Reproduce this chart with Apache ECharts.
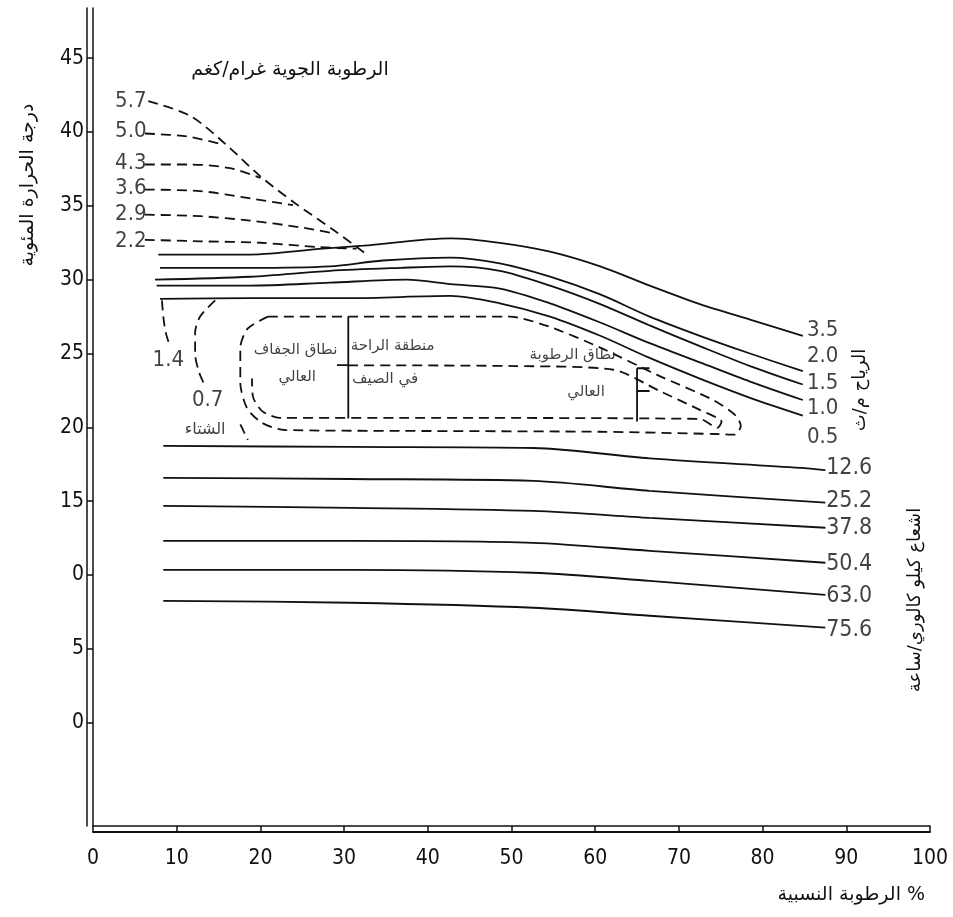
<!DOCTYPE html>
<html>
<head>
<meta charset="utf-8">
<script src="https://cdn.jsdelivr.net/npm/echarts@6/dist/echarts.min.js"></script>
<style>
  html, body { margin: 0; background: #fff; }
  #chart { width: 953px; height: 917px; }
</style>
</head>
<body>
<div id="chart"></div>
<script>
const INK = '#111'
const NUM_FONT = "'DejaVu Sans Condensed', 'Liberation Sans Narrow', 'DejaVu Sans', sans-serif"
const AR_FONT = "'DejaVu Sans', sans-serif"

// axes
const rhTicks = [0, 10, 20, 30, 40, 50, 60, 70, 80, 90, 100]
const tempTicks = [0, 5, 10, 15, 20, 25, 30, 35, 40, 45]
const tempTickText = ['0', '5', '0', '15', '20', '25', '30', '35', '40', '45'] // as printed

// absolute humidity g/kg (dashed)
const humLabels = ['5.7', '5.0', '4.3', '3.6', '2.9', '2.2']
const hum57 = [[6.6, 42.1], [11.6, 41.1], [15.8, 39.2], [20.0, 37.0], [24.1, 35.2], [28.9, 33.3], [32.5, 31.8]]
const hum50 = [[6.2, 39.9], [11.2, 39.7], [15.2, 39.2]]
const hum43 = [[6.2, 37.8], [11.6, 37.8], [16.4, 37.55], [20.0, 36.9]]
const hum36 = [[6.2, 36.1], [12.8, 36.0], [18.8, 35.5], [23.9, 35.05]]
const hum29 = [[6.2, 34.4], [12.8, 34.3], [18.8, 34.0], [24.7, 33.55], [28.7, 33.15]]
const hum22 = [[6.2, 32.7], [12.8, 32.6], [20.0, 32.5], [27.1, 32.2], [31.5, 32.1]]

// wind m/s (solid)
const windLabels = ['3.5', '2.0', '1.5', '1.0', '0.5']
const wind35 = [[7.8, 31.7], [18.8, 31.7], [27.5, 32.1], [32.3, 32.3], [42.7, 32.8], [48.6, 32.5], [54.6, 31.9], [60.6, 30.9], [66.5, 29.6], [72.5, 28.35], [78.5, 27.3], [84.8, 26.2]]
const wind20 = [[8.0, 30.8], [18.8, 30.8], [28.3, 30.9], [34.6, 31.3], [42.7, 31.5], [48.6, 31.1], [54.6, 30.2], [60.6, 29.0], [66.5, 27.5], [72.5, 26.2], [78.5, 25.0], [84.8, 23.8]]
const wind15 = [[7.4, 30.0], [18.8, 30.2], [28.3, 30.6], [36.7, 30.8], [42.7, 30.9], [48.6, 30.6], [54.6, 29.6], [60.6, 28.35], [66.5, 26.9], [72.5, 25.5], [78.5, 24.15], [84.8, 22.9]]
const wind10 = [[7.6, 29.6], [18.8, 29.6], [28.3, 29.8], [37.5, 30.0], [42.7, 29.7], [48.6, 29.4], [54.6, 28.4], [60.6, 27.1], [66.5, 25.7], [72.5, 24.4], [78.5, 23.1], [84.8, 21.85]]
const wind05 = [[8.0, 28.7], [18.8, 28.75], [30.7, 28.75], [42.7, 28.9], [48.6, 28.4], [54.6, 27.5], [60.6, 26.2], [66.5, 24.7], [72.5, 23.3], [78.5, 22.0], [84.8, 20.8]]

// radiation kcal/h (solid)
const radLabels = ['12.6', '25.2', '37.8', '50.4', '63.0', '75.6']
const rad126 = [[8.4, 18.74], [30.7, 18.67], [52.6, 18.6], [66.5, 17.9], [84.5, 17.25], [87.5, 17.1]]
const rad252 = [[8.4, 16.58], [30.7, 16.5], [52.6, 16.37], [66.5, 15.7], [87.5, 14.9]]
const rad378 = [[8.4, 14.68], [30.7, 14.55], [52.6, 14.34], [66.5, 13.87], [87.5, 13.2]]
const rad504 = [[8.4, 12.31], [30.7, 12.31], [52.6, 12.18], [66.5, 11.64], [87.5, 10.83]]
const rad630 = [[8.4, 10.35], [30.7, 10.35], [52.6, 10.15], [66.5, 9.6], [87.5, 8.66]]
const rad756 = [[8.4, 8.25], [30.7, 8.12], [52.6, 7.78], [66.5, 7.24], [87.5, 6.43]]

// comfort zone outlines (dashed)
const zoneOuter = [[20.9, 27.5], [35.0, 27.5], [49.8, 27.5], [54.6, 26.8], [60.6, 25.4], [67.4, 23.55], [74.1, 21.85], [76.7, 20.85], [77.4, 20.1], [76.7, 19.5], [74.3, 19.55], [60.6, 19.7], [36.7, 19.76], [22.9, 19.82], [20.2, 20.3], [18.4, 21.3], [17.6, 23.0], [17.6, 25.4], [18.5, 26.7], [20.9, 27.5]]
const zoneInner = [[30.5, 24.2], [50.4, 24.15], [62.2, 23.9], [67.7, 22.46], [72.5, 21.18], [75.1, 20.37], [74.6, 19.96], [72.5, 20.57], [36.7, 20.64], [22.3, 20.64], [20.2, 21.1], [19.1, 22.1], [19.0, 23.3]]
const winter14 = [[8.24, 28.6], [8.4, 27.5], [8.7, 26.4], [9.2, 25.5]]
const winter07 = [[14.6, 28.6], [12.8, 27.5], [12.2, 26.4], [12.2, 25.0], [12.7, 23.7], [13.4, 22.8], null, [17.6, 20.2], [18.5, 19.15]]
const brackets = [[30.5, 27.5], [30.5, 20.6], null, [29.15, 24.22], [30.5, 24.22], null,
  [65.0, 24.0], [65.0, 20.4], null, [65.0, 24.0], [66.5, 24.0], null, [65.0, 22.46], [66.5, 22.46]]

function curve(data, dashed, smooth) {
  return {
    type: 'line',
    data: data.map(p => p === null ? ['-', '-'] : p),
    showSymbol: false,
    symbol: 'none',
    smooth: smooth === undefined ? 0.3 : smooth,
    connectNulls: false,
    silent: true,
    lineStyle: { color: INK, width: 1.8, type: dashed ? [10, 6] : 'solid' },
    z: 3
  }
}

function note(x, y, text, opts) {
  opts = opts || {}
  return {
    value: [x, y],
    label: {
      formatter: text,
      color: INK,
      textBorderWidth: 0,
      align: opts.align || 'center',
      fontSize: opts.size || 22,
      fontFamily: opts.ar ? AR_FONT : NUM_FONT
    }
  }
}

const humCurves = [hum57, hum50, hum43, hum36, hum29, hum22]
const windCurves = [wind35, wind20, wind15, wind10, wind05]
const radCurves = [rad126, rad252, rad378, rad504, rad630, rad756]

const humY = [42.1, 40.05, 37.9, 36.2, 34.45, 32.6]
const windY = [26.6, 24.8, 23.0, 21.3, 19.3]
const radY = [17.25, 15.0, 13.2, 10.75, 8.6, 6.3]

const notes = []
humLabels.forEach((t, i) => notes.push(note(6.4, humY[i], t, { align: 'right' })))
windLabels.forEach((t, i) => notes.push(note(85.3, windY[i], t, { align: 'left' })))
radLabels.forEach((t, i) => notes.push(note(87.6, radY[i], t, { align: 'left', size: 23 })))
notes.push(note(9.0, 24.55, '1.4'))
notes.push(note(13.7, 21.8, '0.7'))
notes.push(note(13.4, 19.85, 'الشتاء', { ar: true, size: 16 }))
notes.push(note(24.2, 25.2, 'نطاق الجفاف', { ar: true, size: 15 }))
notes.push(note(24.4, 23.4, 'العالي', { ar: true, size: 15 }))
notes.push(note(35.8, 25.5, 'منطقة الراحة', { ar: true, size: 15 }))
notes.push(note(34.9, 23.3, 'في الصيف', { ar: true, size: 15 }))
notes.push(note(57.3, 24.9, 'نطاق الرطوبة', { ar: true, size: 15 }))
notes.push(note(58.9, 22.4, 'العالي', { ar: true, size: 15 }))

const series = []
humCurves.forEach(d => series.push(curve(d, true)))
windCurves.forEach(d => series.push(curve(d, false)))
radCurves.forEach(d => series.push(curve(d, false)))
series.push(curve(zoneOuter, true, 0.25))
series.push(curve(zoneInner, true, 0.25))
series.push(curve(winter14, true))
series.push(curve(winter07, true))
series.push(curve(brackets, false, false))
series.push({
  type: 'scatter',
  data: notes,
  symbolSize: 0,
  silent: true,
  z: 5,
  label: { show: true, position: 'inside', color: INK, verticalAlign: 'middle' }
})

const axisLine = { show: true, onZero: false, lineStyle: { color: INK, width: 1.5 } }

const chart = echarts.init(document.getElementById('chart'))
chart.setOption({
  animation: false,
  backgroundColor: '#fff',
  grid: { left: 93, right: 23, top: 8, bottom: 91, containLabel: false },
  xAxis: [
    {
      type: 'value', min: 0, max: 100, interval: 10,
      axisLine: axisLine,
      axisTick: { show: true, length: 6, lineStyle: { color: INK, width: 1.5 } },
      axisLabel: {
        color: INK, fontSize: 21, fontFamily: NUM_FONT, margin: 22,
        customValues: rhTicks, formatter: v => String(v)
      },
      splitLine: { show: false }
    },
    {
      type: 'value', min: 0, max: 100, position: 'bottom', offset: 6,
      axisLine: { show: true, onZero: false, lineStyle: { color: INK, width: 1.8 } },
      axisTick: { show: false }, axisLabel: { show: false }, splitLine: { show: false }
    }
  ],
  yAxis: [
    {
      type: 'value', min: -7, max: 48.4,
      axisLine: axisLine,
      axisTick: { show: true, length: 6, customValues: tempTicks, lineStyle: { color: INK, width: 1.5 } },
      axisLabel: {
        color: INK, fontSize: 21, fontFamily: NUM_FONT, margin: 9,
        customValues: tempTicks,
        formatter: v => tempTickText[tempTicks.indexOf(v)]
      },
      splitLine: { show: false }
    },
    {
      type: 'value', min: -7, max: 48.4, position: 'left', offset: 6,
      axisLine: axisLine, axisTick: { show: false }, axisLabel: { show: false }, splitLine: { show: false }
    }
  ],
  graphic: [
    {
      type: 'text', x: 290, y: 70,
      style: { text: 'الرطوبة الجوية غرام/كغم', font: '19px ' + AR_FONT, fill: INK, align: 'center', verticalAlign: 'middle' }
    },
    {
      type: 'text', x: 28, y: 185, rotation: Math.PI / 2,
      style: { text: 'درجة الحرارة المئوية', font: '19px ' + AR_FONT, fill: INK, align: 'center', verticalAlign: 'middle' }
    },
    {
      type: 'text', x: 925, y: 895,
      style: { text: 'الرطوبة النسبية %', font: '19px ' + AR_FONT, fill: INK, align: 'right', verticalAlign: 'middle' }
    },
    {
      type: 'text', x: 860, y: 390, rotation: Math.PI / 2,
      style: { text: 'الرياح م/ث', font: '18px ' + AR_FONT, fill: INK, align: 'center', verticalAlign: 'middle' }
    },
    {
      type: 'text', x: 915, y: 600, rotation: Math.PI / 2,
      style: { text: 'اشعاع كيلو كالوري/ساعة', font: '18px ' + AR_FONT, fill: INK, align: 'center', verticalAlign: 'middle' }
    }
  ],
  series: series
})
</script>
</body>
</html>
